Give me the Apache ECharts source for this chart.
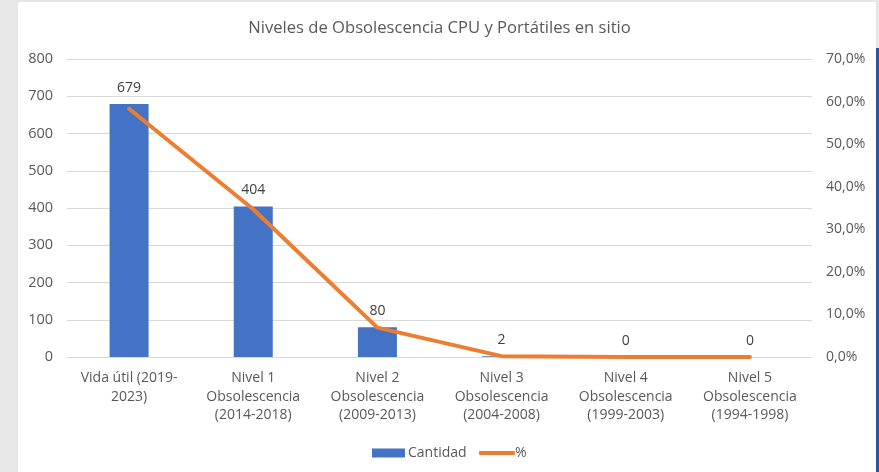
<!DOCTYPE html>
<html lang="es">
<head>
  <meta charset="UTF-8">
  <title>Niveles de Obsolescencia</title>
  <style>
    body{ margin:0; background:#e6e6e6; }
    #paper{ position:absolute; left:18px; top:2px; width:858px; height:470px; background:#fff; }
    #edge{ position:absolute; left:876px; top:48px; width:3px; height:424px; background:#2b579a; }
    #chart{ position:absolute; left:0; top:0; width:879px; height:472px; }
  </style>
</head>
<body>
  <div id="paper"></div>
  <div id="edge"></div>
  <div id="chart"></div>
  <script src="https://cdn.jsdelivr.net/npm/echarts@6/dist/echarts.min.js"></script>
  <script>
    var categorias = [
      'Vida útil (2019-\n2023)',
      'Nivel 1\nObsolescencia\n(2014-2018)',
      'Nivel 2\nObsolescencia\n(2009-2013)',
      'Nivel 3\nObsolescencia\n(2004-2008)',
      'Nivel 4\nObsolescencia\n(1999-2003)',
      'Nivel 5\nObsolescencia\n(1994-1998)'
    ]
    var cantidad = [679, 404, 80, 2, 0, 0]
    var porcentaje = [58.3, 34.7, 6.9, 0.2, 0, 0]

    var gris = '#595959'
    var fuente = 'Open Sans'
    var chart = echarts.init(document.getElementById('chart'))
    chart.setOption({
      backgroundColor: 'transparent',
      title: {
        text: 'Niveles de Obsolescencia CPU y Portátiles en sitio',
        left: 'center',
        top: 15,
        textStyle: { color: gris, fontSize: 16.6, fontWeight: 'normal', fontFamily: fuente }
      },
      // two legends so the line icon can be thin and the bar icon thick
      legend: [
        {
          left: 367, top: 441,
          itemWidth: 33, itemHeight: 9, itemGap: 4,
          textStyle: { color: gris, fontSize: 14, fontFamily: fuente, padding: [0, 0, 0, -2] },
          data: [{ name: 'Cantidad', icon: 'rect' }]
        },
        {
          left: 474, top: 441,
          itemWidth: 36, itemHeight: 4,
          textStyle: { color: gris, fontSize: 14, fontFamily: fuente, padding: [0, 0, 0, -5] },
          data: [{ name: '%', icon: 'roundRect' }]
        }
      ],
      grid: { left: 67, right: 67, top: 59, bottom: 115 },
      xAxis: {
        type: 'category',
        data: categorias,
        axisTick: { show: false },
        axisLine: { lineStyle: { color: '#d9d9d9' } },
        axisLabel: { color: gris, fontSize: 14, fontFamily: fuente, lineHeight: 18.5, margin: 12, interval: 0 }
      },
      yAxis: [
        {
          type: 'value', min: 0, max: 800, interval: 100,
          axisLine: { show: false }, axisTick: { show: false },
          splitLine: { lineStyle: { color: '#d9d9d9' } },
          axisLabel: { color: gris, fontSize: 14.5, fontFamily: fuente, margin: 14 }
        },
        {
          type: 'value', min: 0, max: 70, interval: 10,
          axisLine: { show: false }, axisTick: { show: false },
          splitLine: { show: false },
          axisLabel: {
            color: gris, fontSize: 14, fontFamily: fuente, margin: 14,
            formatter: function (v) { return v.toFixed(1).replace('.', ',') + '%' }
          }
        }
      ],
      series: [
        {
          name: 'Cantidad',
          type: 'bar',
          data: cantidad,
          barWidth: 39,
          itemStyle: { color: '#4472c4' },
          label: { show: true, position: 'top', distance: 9, color: '#404040', fontSize: 14, fontFamily: fuente }
        },
        {
          name: '%',
          type: 'line',
          yAxisIndex: 1,
          data: porcentaje,
          symbol: 'none',
          lineStyle: { color: '#ed7d31', width: 4, cap: 'round', join: 'round' },
          itemStyle: { color: '#ed7d31' }
        }
      ]
    })
  </script>
</body>
</html>
